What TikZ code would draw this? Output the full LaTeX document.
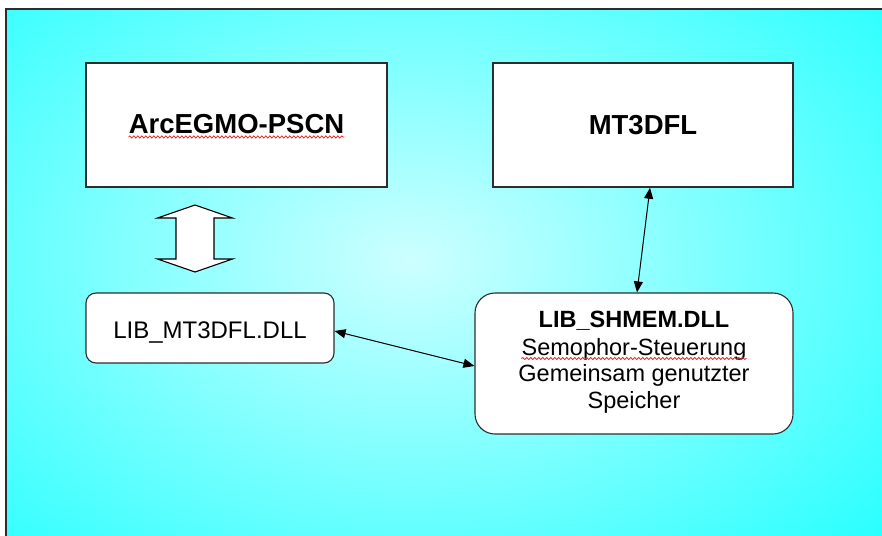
\documentclass[tikz,border=0pt]{standalone}
\usepackage{fontspec}
\setmainfont{Liberation Sans}
\usetikzlibrary{arrows.meta,decorations.pathmorphing}
\definecolor{outerCyan}{RGB}{0,255,255}
\definecolor{innerCyan}{RGB}{205,255,255}
\definecolor{edgeGray}{RGB}{45,45,45}
\definecolor{spellRed}{RGB}{235,40,40}
\tikzset{
  sqbox/.style={draw=edgeGray, line width=1.5pt, fill=white, inner sep=0pt},
  rbox/.style={draw=edgeGray, line width=1.1pt, fill=white, inner sep=0pt},
  lbl/.style={inner sep=0pt, anchor=base, text=black},
  bigbold/.style={font=\fontsize{27.5}{32}\selectfont\bfseries},
  midreg/.style={font=\fontsize{24}{28}\selectfont},
  smallbold/.style={font=\fontsize{23.5}{27}\selectfont\bfseries},
  smallreg/.style={font=\fontsize{23.5}{27}\selectfont},
  conn/.style={line width=1pt, draw=black,
    {Triangle[length=11pt,width=9pt]}-{Triangle[length=11pt,width=9pt]}},
  wavy/.style={draw=spellRed, line width=0.8pt, decorate,
    decoration={snake, amplitude=1.1pt, segment length=4pt}},
  hollow/.style={draw=black, line width=1.1pt, fill=white, line join=miter}
}
\begin{document}
\begin{tikzpicture}[x=1pt,y=-1pt]
  \useasboundingbox (0,0) rectangle (882,535);
  \clip (0,0) rectangle (882,535);
  % background frame with radial gradient (frame runs past the right and bottom edges)
  \begin{scope}
    \clip (6,9) rectangle (900,560);
    \shade[inner color=innerCyan, outer color=outerCyan] (-380,-270) rectangle (1200,790);
  \end{scope}
  \draw[edgeGray, line width=1.5pt] (6,560) -- (6,9) -- (900,9);

  % boxes
  \node[sqbox, minimum width=301pt, minimum height=124pt] (arc) at (236.5,125) {};
  \node[sqbox, minimum width=300pt, minimum height=124pt] (mt) at (643,125) {};
  \node[rbox, rounded corners=10pt, minimum width=248pt, minimum height=70pt] (lm) at (210,328) {};
  \node[rbox, rounded corners=20pt, minimum width=318pt, minimum height=141pt] (sh) at (634,363.5) {};

  % texts
  \node[lbl, bigbold] (arcT) at ([yshift=-8pt]arc.center) {ArcEGMO-PSCN};
  \node[lbl, bigbold] (mtT) at ([yshift=-9pt]mt.center) {MT3DFL};
  \node[lbl, midreg] (lmT) at ([yshift=-10pt]lm.center) {LIB\_MT3DFL.DLL};
  \node[lbl, smallbold] (sh1) at ([yshift=36.5pt]sh.center) {LIB\_SHMEM.DLL};
  \node[lbl, smallreg] (sh2) at ([yshift=8.5pt]sh.center) {Semophor-Steuerung};
  \node[lbl, smallreg] (sh3) at ([yshift=-18pt]sh.center) {Gemeinsam genutzter};
  \node[lbl, smallreg] (sh4) at ([yshift=-44.5pt]sh.center) {Speicher};

  % spell-check underlines
  \draw[wavy] ([yshift=-4pt]arcT.base west) -- ([yshift=-4pt]arcT.base east);
  \draw[wavy] ([yshift=-3.5pt]sh2.base west) -- ([yshift=-3.5pt]sh2.base east);

  % connectors
  \draw[conn] ([yshift=-3pt]lm.east) -- ([yshift=-2.5pt]sh.west);
  \draw[conn] ([xshift=7pt]mt.south) -- ([xshift=3pt]sh.north);

  % hollow double arrow between ArcEGMO-PSCN and LIB_MT3DFL.DLL
  \coordinate (dbl) at (195,238.5);
  \begin{scope}[shift={(dbl)}]
    \draw[hollow] (0,-33.5) -- (37.5,-20.5) -- (19,-20.5) -- (19,20.5) -- (37.5,20.5)
      -- (0,33.5) -- (-37.5,20.5) -- (-19,20.5) -- (-19,-20.5) -- (-37.5,-20.5) -- cycle;
  \end{scope}
\end{tikzpicture}
\end{document}
